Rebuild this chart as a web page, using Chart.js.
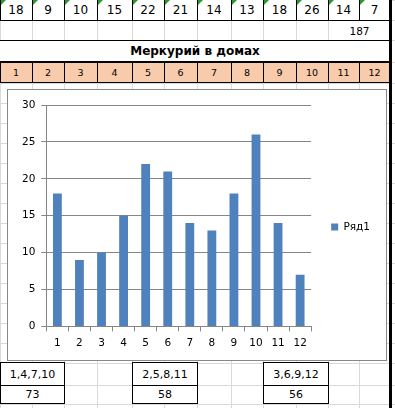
<!DOCTYPE html>
<html>
<head>
<meta charset="utf-8">
<script src="https://cdn.jsdelivr.net/npm/chart.js@4.4.0/dist/chart.umd.min.js"></script>
<style>
body { margin: 0; background: #fff; }
#sheet { position: relative; width: 395px; height: 408px; overflow: hidden; font-family: "DejaVu Sans", sans-serif; }
.c { position: absolute; box-sizing: border-box; display: flex; align-items: center; justify-content: center; color: #000; white-space: nowrap; }
#frame { position: absolute; left: 7px; top: 89px; width: 380px; height: 272px; box-sizing: border-box; border: 1px solid #888; background: #fff; }
#chart { display: block; }
</style>
</head>
<body>
<div id="sheet">
	<div id="frame"><canvas id="chart" width="378" height="270"></canvas></div>
</div>
<script>
// Данные из таблицы
const houses = ["1", "2", "3", "4", "5", "6", "7", "8", "9", "10", "11", "12"];
const mercury = [18, 9, 10, 15, 22, 21, 14, 13, 18, 26, 14, 7];
const seriesName = "Ряд1";
const title = "Меркурий в домах";
const total = 187;
const groupLabels = ["1,4,7,10", "2,5,8,11", "3,6,9,12"];
const groupSums = [73, 58, 56];
const yMin = 0;
const yMax = 30;
const yStep = 5;

// Сетка листа
const colEdges = [0, 32, 64, 97, 132, 164, 197, 231, 263, 296, 328, 359, 390];
const rowEdges = [0, 20, 40, 62, 83, 103, 123, 143, 163, 183, 203, 223, 243, 263, 283, 303, 323, 343, 363, 385, 404];
const sheet = document.getElementById("sheet");
const frame = document.getElementById("frame");

function box(x, y, w, h, css, text) {
	const d = document.createElement("div");
	d.className = "c";
	d.style.left = x + "px";
	d.style.top = y + "px";
	d.style.width = w + "px";
	d.style.height = h + "px";
	Object.assign(d.style, css || {});
	if (text !== undefined) d.textContent = text;
	sheet.insertBefore(d, frame);
	return d;
}

// светло-серые линии сетки
colEdges.forEach((x) => box(x, 0, 1, 408, { background: "#d9d9d9" }));
rowEdges.forEach((y) => box(0, y, 395, 1, { background: "#d9d9d9" }));

// строка 1 - значения
for (let i = 0; i < 12; i++) {
	const x = colEdges[i];
	const w = colEdges[i + 1] - x;
	box(x, 0, w, 20, { background: "#fff", fontSize: "12px" }, mercury[i]);
	box(x + 1, 0, 0, 0, { borderTop: "5px solid #2a9a2a", borderRight: "5px solid transparent" });
	box(x, 0, 1, 20, { background: "#000" });
}
box(0, 20, 390, 1, { background: "#000" });

// строка 2 - сумма
box(colEdges[10] + 1, 21, colEdges[12] - colEdges[10] - 1, 19, { background: "#fff", fontSize: "10.5px" }, total);
box(0, 40, 390, 1, { background: "#000" });

// строка 3 - заголовок
box(0, 41, 390, 20, { background: "#fff", fontWeight: "bold", fontSize: "12px" }, title);
box(0, 61, 390, 2, { background: "#000" });

// строка 4 - номера домов
for (let i = 0; i < 12; i++) {
	const x = colEdges[i];
	const w = colEdges[i + 1] - x;
	box(x, 63, w, 19, { background: "#f8cbad", fontSize: "9.5px" }, houses[i]);
	box(x, 63, 1, 19, { background: "#000" });
}
box(0, 82, 390, 1, { background: "#000" });

// итоги по группам
const groupCols = [0, 4, 8];
groupCols.forEach((c, i) => {
	const x = colEdges[c];
	const w = colEdges[c + 2] - x + 1;
	box(x, 362, w, 24, { background: "#fff", border: "1px solid #000", fontSize: "11px" }, groupLabels[i]);
	box(x, 385, w, 19, { background: "#fff", border: "1px solid #000", fontSize: "11px" }, groupSums[i]);
});

// толстая правая граница
box(389, 0, 3, 408, { background: "#000" });

// диаграмма
const tickFont = { family: "DejaVu Sans", size: 10.5 };
const ctx = document.getElementById("chart").getContext("2d");
new Chart(ctx, {
	type: "bar",
	data: {
		labels: houses,
		datasets: [
			{
				label: seriesName,
				data: mercury,
				backgroundColor: "#4f81bd",
				barPercentage: 0.4,
				categoryPercentage: 1,
			},
		],
	},
	options: {
		responsive: false,
		animation: false,
		devicePixelRatio: 1,
		layout: { padding: { left: 8, top: 15, right: 6, bottom: 11 } },
		plugins: {
			tooltip: { enabled: false },
			legend: {
				position: "right",
				labels: { boxWidth: 7, boxHeight: 7, padding: 20, color: "#000", font: tickFont },
			},
		},
		scales: {
			x: {
				grid: { display: true, drawOnChartArea: false, offset: true, tickLength: 5, color: "#868686" },
				border: { color: "#868686" },
				ticks: { color: "#000", font: tickFont, padding: 6, maxRotation: 0 },
				// ось ниже, подписи остаются на месте
				afterFit: (scale) => {
					scale.height -= 7;
				},
			},
			y: {
				min: yMin,
				max: yMax,
				grid: { color: "#868686", tickLength: 5 },
				border: { color: "#868686" },
				ticks: { stepSize: yStep, color: "#000", font: tickFont, padding: 6 },
			},
		},
	},
});
</script>
</body>
</html>
